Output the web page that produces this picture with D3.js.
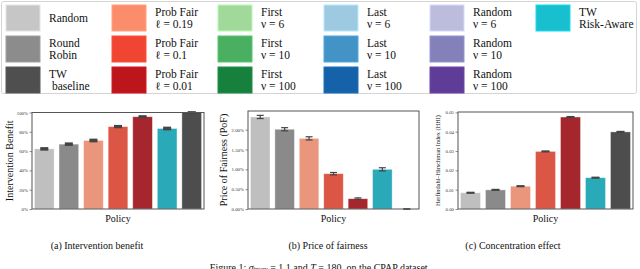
<!DOCTYPE html>
<html>
<head>
<meta charset="utf-8">
<script src="https://cdn.jsdelivr.net/npm/d3@7"></script>
<style>
  body { margin: 0; background: #fff; }
  svg text { font-family: "Liberation Serif", "DejaVu Serif", "Times New Roman", serif !important; }
</style>
</head>
<body>
<svg id="fig" width="640" height="269" font-family="Liberation Serif, serif"></svg>
<script>
// policies shown in every panel, left to right
var policies = ["Random", "Round Robin", "Prob Fair 0.19", "Prob Fair 0.1", "Prob Fair 0.01", "TW Risk-Aware", "TW baseline"];
var barColors = ["#bfbfbf", "#8a8a8a", "#e9967d", "#dc5646", "#a6262d", "#2aa9b9", "#4d4d4d"];

// (a) intervention benefit, %
var benefit = [62.3, 67.2, 71.0, 85.4, 95.6, 83.4, 100];
var benefitErr = [0.7, 0.7, 0.8, 0.6, 0.5, 0.8, 0.2];
// (b) price of fairness, %
var pof = [2.32, 2.01, 1.78, 0.89, 0.26, 1.00, 0.0];
var pofErr = [0.04, 0.04, 0.04, 0.03, 0.02, 0.04, 0.005];
// (c) HHI
var hhi = [0.0084, 0.0099, 0.0118, 0.0298, 0.0476, 0.0162, 0.0399];
var hhiErr = [0.0002, 0.0002, 0.0002, 0.0002, 0.0002, 0.0002, 0.0002];

// legend, by column
var legendLabels = [
  ["Random"], ["Round", "Robin"], ["TW", " baseline"],
  ["Prob Fair", "\u2113 = 0.19"], ["Prob Fair", "\u2113 = 0.1"], ["Prob Fair", "\u2113 = 0.01"],
  ["First", "\u03bd = 6"], ["First", "\u03bd = 10"], ["First", "\u03bd = 100"],
  ["Last", "\u03bd = 6"], ["Last", "\u03bd = 10"], ["Last", "\u03bd = 100"],
  ["Random", "\u03bd = 6"], ["Random", "\u03bd = 10"], ["Random", "\u03bd = 100"],
  ["TW", "Risk-Aware"]
];
var legendColors = [
  "#c6c6c6", "#8c8c8c", "#4f4f4f",
  "#fc8d6c", "#f14533", "#bd151c",
  "#a1d99b", "#4aaf60", "#17803d",
  "#9ecae1", "#4393c6", "#1662a9",
  "#bcbcdc", "#8480ba", "#5f3c98",
  "#18bfcf"
];

var svg = d3.select("#fig");

// ---- legend
svg.append("rect")
  .attr("x", 1.5).attr("y", 1.5).attr("width", 635).attr("height", 92)
  .attr("rx", 2)
  .attr("fill", "#fff").attr("stroke", "#d4d4d4");

var legX = d3.scaleLinear().domain([0, 1]).range([6, 112]);
var legY = d3.scaleLinear().domain([0, 1]).range([5, 36]);

legendLabels.forEach(function (lab, i) {
  var col = Math.floor(i / 3), row = i % 3;
  var x0 = legX(col), y0 = legY(row);
  svg.append("rect")
    .attr("x", x0).attr("y", y0).attr("width", 34).attr("height", 26)
    .attr("fill", legendColors[i])
    .attr("stroke", d3.color(legendColors[i]).brighter(0.4))
    .attr("stroke-width", 1);
  var t = svg.append("text")
    .attr("x", x0 + 43)
    .attr("font-size", 11.5)
    .attr("fill", "#111")
    .attr("xml:space", "preserve");
  if (lab.length == 1) {
    t.attr("y", y0 + 17).text(lab[0]);
  } else {
    t.append("tspan").attr("x", x0 + 43).attr("y", y0 + 11).text(lab[0]);
    t.append("tspan").attr("x", x0 + 43).attr("y", y0 + 23).text(lab[1]);
  }
});

// ---- panels
function panel(opt) {
  var x = d3.scaleBand().domain(policies)
    .range([opt.left, opt.right]).paddingInner(0.2).paddingOuter(0.1);
  var y = d3.scaleLinear().domain(opt.domain).range([209, opt.top]);

  var g = svg.append("g");

  g.selectAll("rect.bar")
    .data(opt.values)
    .enter().append("rect")
    .attr("class", "bar")
    .attr("x", function (d, i) { return x(policies[i]); })
    .attr("width", x.bandwidth())
    .attr("y", function (d) { return y(d); })
    .attr("height", function (d) { return y(0) - y(d); })
    .attr("fill", function (d, i) { return barColors[i]; })
    .attr("stroke", "rgba(255,255,255,0.45)")
    .attr("stroke-width", 0.8);

  // error bars
  var cap = opt.cap;
  opt.values.forEach(function (v, i) {
    var cx = x(policies[i]) + x.bandwidth() / 2;
    var lo = y(v - opt.err[i]), hi = y(v + opt.err[i]);
    g.append("line").attr("x1", cx).attr("x2", cx).attr("y1", lo).attr("y2", hi)
      .attr("stroke", "#444").attr("stroke-width", 1.2);
    [lo, hi].forEach(function (yy) {
      g.append("line").attr("x1", cx - cap).attr("x2", cx + cap)
        .attr("y1", yy).attr("y2", yy)
        .attr("stroke", "#444").attr("stroke-width", opt.capW);
    });
  });

  // y axis
  var ax = g.append("g")
    .attr("transform", "translate(" + opt.left + ",0)")
    .call(d3.axisLeft(y).tickValues(opt.ticks).tickFormat(opt.fmt).tickSize(2.5).tickPadding(1.5));
  ax.attr("font-family", null);
  ax.select(".domain").remove();
  ax.selectAll(".tick line").attr("stroke", "#444").attr("stroke-width", 0.6);
  ax.selectAll(".tick text")
    .attr("font-size", 4.8)
    .attr("fill", "#333");

  // frame
  g.append("rect")
    .attr("x", opt.left).attr("y", opt.top)
    .attr("width", opt.right - opt.left).attr("height", 209 - opt.top)
    .attr("fill", "none").attr("stroke", "#555").attr("stroke-width", 1);

  // labels
  g.append("text")
    .attr("transform", "translate(" + opt.ylabX + "," + ((opt.top + 209) / 2) + ") rotate(-90)")
    .attr("text-anchor", "middle")
    .attr("dy", "0.35em")
    .attr("font-size", opt.ylabSize)
    .attr("fill", "#111")
    .text(opt.ylabel);

  g.append("text")
    .attr("x", (opt.left + opt.right) / 2).attr("y", 222)
    .attr("text-anchor", "middle")
    .attr("font-size", 10)
    .attr("fill", "#111")
    .text("Policy");

  svg.append("text")
    .attr("x", opt.capX).attr("y", 249)
    .attr("text-anchor", "middle")
    .attr("font-size", 10)
    .attr("fill", "#111")
    .text(opt.caption);
}

panel({
  left: 32, right: 204, top: 112.5, domain: [0, 100],
  values: benefit, err: benefitErr, cap: 4, capW: 2.2,
  ticks: [0, 20, 40, 60, 80, 100], fmt: function (d) { return d + "%"; },
  ylabel: "Intervention Benefit", ylabX: 9, ylabSize: 10,
  caption: "(a) Intervention benefit", capX: 97
});

panel({
  left: 248, right: 419, top: 111, domain: [0, 2.47],
  values: pof, err: pofErr, cap: 3.5, capW: 1.2,
  ticks: [0, 0.5, 1, 1.5, 2], fmt: function (d) { return d.toFixed(2) + "%"; },
  ylabel: "Price of Fairness (PoF)", ylabX: 223, ylabSize: 10,
  caption: "(b) Price of fairness", capX: 328
});

panel({
  left: 458, right: 633, top: 112, domain: [0, 0.0502],
  values: hhi, err: hhiErr, cap: 4, capW: 1.4,
  ticks: [0, 0.01, 0.02, 0.03, 0.04, 0.05], fmt: d3.format(".2f"),
  ylabel: "Herfindahl\u2013Hirschman Index (HHI)", ylabX: 438, ylabSize: 6.3,
  caption: "(c) Concentration effect", capX: 513
});

// figure caption, cut off by the bottom edge as in the source
var fc = svg.append("text")
  .attr("x", 320).attr("y", 271)
  .attr("text-anchor", "middle")
  .attr("font-size", 10)
  .attr("fill", "#111");
fc.append("tspan").text("Figure 1: ");
fc.append("tspan").attr("font-style", "italic").text("\u03c3");
fc.append("tspan").attr("font-size", 6).text("interv");
fc.append("tspan").text(" = 1.1 and ");
fc.append("tspan").attr("font-style", "italic").text("T");
fc.append("tspan").text(" = 180, on the CPAP dataset.");
</script>
</body>
</html>
